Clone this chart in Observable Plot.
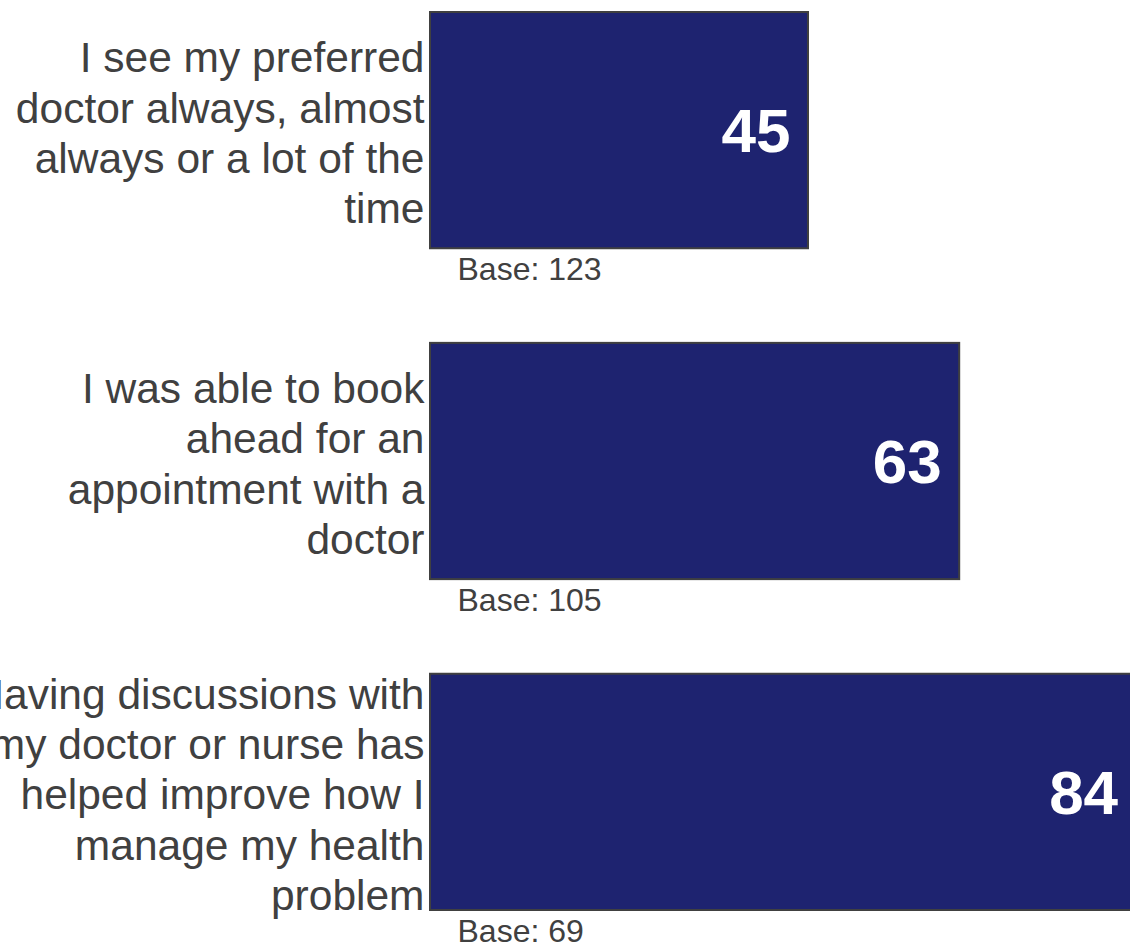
<!DOCTYPE html>
<html>
<head>
<meta charset="utf-8">
<script src="https://cdn.jsdelivr.net/npm/d3@7"></script>
<script src="https://cdn.jsdelivr.net/npm/@observablehq/plot@0.6"></script>
<style>
  html, body { margin: 0; padding: 0; background: white; overflow: hidden; }
  #chart { width: 1130px; height: 944px; overflow: hidden; }
</style>
</head>
<body>
<div id="chart"></div>
<script>
const categories = [
  "I see my preferred\ndoctor always, almost\nalways or a lot of the\ntime",
  "I was able to book\nahead for an\nappointment with a\ndoctor",
  "Having discussions with\nmy doctor or nurse has\nhelped improve how I\nmanage my health\nproblem"
];
const values = [45, 63, 84];
const bases = [123, 105, 69];

const rows = categories.map((c, i) => ({category: c, value: values[i], base: bases[i]}));

const font = "'Liberation Sans', Arial, Helvetica, sans-serif";
const textColor = "#404040";

const chart = Plot.plot({
  width: 1130,
  height: 944,
  style: {fontFamily: font, background: "white", overflow: "hidden"},
  x: {domain: [0, 100], range: [430, 1270], axis: null},
  y: {domain: categories, range: [12, 910], paddingInner: 0.286, paddingOuter: 0, axis: null, round: false},
  marks: [
    Plot.barX(rows, {x: "value", y: "category", fill: "#1e2370", stroke: "#404040", strokeWidth: 2}),
    Plot.text(rows, {x: 0, y: "category", text: "category", textAnchor: "end", dx: -6, dy: 1,
      fontSize: 42.5, lineHeight: 1.18, fill: textColor, fontFamily: font}),
    Plot.text(rows, {x: "value", y: "category", text: d => String(d.value), textAnchor: "end", dx: -18, dy: 2,
      fontSize: 62, fontWeight: "bold", fill: "white", fontFamily: font}),
    Plot.text(rows, {x: 0, y: "category", text: d => "Base: " + d.base, textAnchor: "start", dx: 27, dy: 139,
      fontSize: 32, fill: textColor, fontFamily: font})
  ]
});
document.getElementById("chart").appendChild(chart);
</script>
</body>
</html>
